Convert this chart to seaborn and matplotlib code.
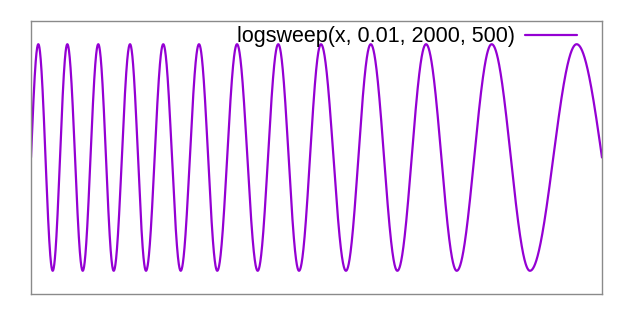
import numpy as np
import pandas as pd
import matplotlib
matplotlib.use("Agg")
import matplotlib.pyplot as plt
import seaborn as sns

# Extrema (x in plot units 0..500), alternating peak/trough
extrema_x = [6.4, 19.0, 31.8, 45.3, 58.9, 72.4, 86.7, 100.7, 115.8, 131.1,
             147.1, 163.1, 180.4, 198.5, 216.5, 234.7, 253.9, 275.8, 297.5,
             320.8, 345.9, 372.8, 403.4, 436.9, 477.8]
extrema_y = [1, -1] * 12 + [1]
x_start, x_end = 0.0, 500.0
label = "logsweep(x, 0.01, 2000, 500)"

sns.set_theme(style="white")
plt.rcParams['font.family'] = ['Liberation Sans', 'DejaVu Sans']

# phase key points: 0 at start, pi/2 + k*pi at extrema, next zero crossing at end
key_x = [x_start] + extrema_x + [x_end]
key_phase = [0.0] + [np.pi / 2 + k * np.pi for k in range(len(extrema_x))] + \
            [np.pi / 2 + len(extrema_x) * np.pi - np.pi / 2]
xs = np.linspace(x_start, x_end, 4000)
ys = np.sin(np.interp(xs, key_x, key_phase))
df = pd.DataFrame({"x": xs, "y": ys, "series": label})

fig = plt.figure(figsize=(6.4, 3.2), dpi=100)
ax = fig.add_axes([31 / 640, 26 / 320, 571 / 640, 273 / 320])
sns.lineplot(data=df, x="x", y="y", hue="series", palette=["#9400D3"],
             linewidth=1.6, ax=ax, sort=False)
ax.set_xlim(x_start, x_end)
ax.set_ylim(-1.205, 1.205)
ax.set_xticks([])
ax.set_yticks([])
ax.set_xlabel("")
ax.set_ylabel("")
for s in ax.spines.values():
    s.set_color("#8a8a8a")
    s.set_linewidth(1.0)
leg = ax.legend(loc="upper right", frameon=False, markerfirst=False,
                fontsize=15.5, handlelength=2.45, borderaxespad=0.0,
                bbox_to_anchor=(0.972, 1.012), handletextpad=0.45)
for t in leg.get_texts():
    t.set_color("black")
fig.savefig("out.png", dpi=100)
